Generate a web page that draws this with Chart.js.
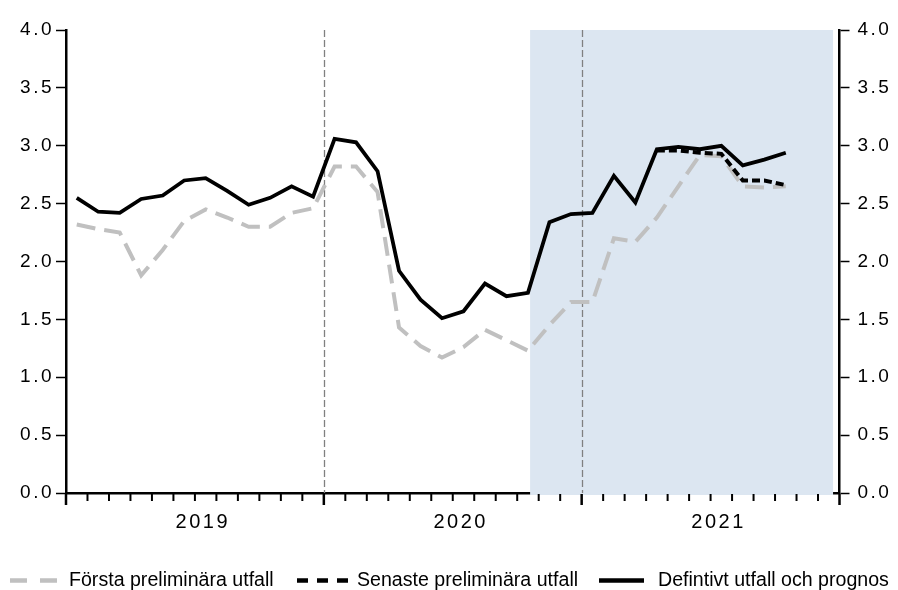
<!DOCTYPE html>
<html>
<head>
<meta charset="utf-8">
<script src="https://cdn.jsdelivr.net/npm/chart.js@4.4.0/dist/chart.umd.min.js"></script>
<style>
  body { margin: 0; background: #fff; }
  canvas { display: block; }
</style>
</head>
<body>
<canvas id="chart" width="898" height="590"></canvas>
<script>
const years = ['2019', '2020', '2021'];
const seriesNames = ['Första preliminära utfall', 'Senaste preliminära utfall', 'Defintivt utfall och prognos'];

// monthly values, jan 2019 - okt 2021
const firstPrelim = [
  2.32, 2.28, 2.25, 1.88, 2.10, 2.35, 2.45, 2.38, 2.30, 2.30, 2.42, 2.46,
  2.82, 2.82, 2.60, 1.43, 1.27, 1.17, 1.26, 1.41, 1.32, 1.23, 1.45, 1.65,
  1.65, 2.20, 2.17, 2.38, 2.65, 2.92, 2.91, 2.65, 2.64, 2.65
];
const latestPrelim = [
  null, null, null, null, null, null, null, null, null, null, null, null,
  null, null, null, null, null, null, null, null, null, null, null, null,
  null, null, null, 2.96, 2.96, 2.94, 2.93, 2.70, 2.70, 2.66
];
const definitive = [
  2.55, 2.43, 2.42, 2.54, 2.57, 2.70, 2.72, 2.61, 2.49, 2.55, 2.65, 2.56,
  3.06, 3.03, 2.78, 1.92, 1.67, 1.51, 1.57, 1.81, 1.70, 1.73, 2.34, 2.41,
  2.42, 2.74, 2.51, 2.97, 2.99, 2.97, 3.00, 2.83, 2.88, 2.94
];

// months counted from jan 2019
const forecastStart = 21.6;
const forecastEnd = 35.7;
const yearBreaks = [12, 24];
const nMonths = years.length * 12;
const yearLabelShift = 0.37;

const toPoints = arr => arr.map((v, i) => ({ x: i + 0.5, y: v }));
const font = 'Liberation Sans, Arial, sans-serif';

const decorations = {
  id: 'decorations',
  beforeDraw(chart) {
    // original has wide spacing between digits
    chart.ctx.letterSpacing = '2.5px';
  },
  beforeDatasetsDraw(chart) {
    const { ctx, chartArea: a, scales: { x } } = chart;
    ctx.save();
    // forecast shading (covers the bottom axis line as in the original)
    const x0 = x.getPixelForValue(forecastStart);
    const x1 = x.getPixelForValue(forecastEnd);
    ctx.fillStyle = '#dce6f1';
    ctx.fillRect(x0, a.top, x1 - x0, a.bottom - a.top + 2);

    ctx.strokeStyle = '#808080';
    ctx.lineWidth = 1.3;
    ctx.setLineDash([7, 3]);
    yearBreaks.forEach(m => {
      const px = Math.round(x.getPixelForValue(m)) + 0.5;
      ctx.beginPath();
      ctx.moveTo(px, a.top);
      ctx.lineTo(px, a.bottom);
      ctx.stroke();
    });

    // month ticks, longer at year change
    ctx.setLineDash([]);
    ctx.strokeStyle = '#000';
    for (let m = 0; m <= nMonths; m++) {
      const px = x.getPixelForValue(m);
      const major = m % 12 === 0;
      ctx.lineWidth = major ? 2.5 : 2;
      ctx.beginPath();
      ctx.moveTo(px, a.bottom + 1);
      ctx.lineTo(px, a.bottom + (major ? 12 : 8));
      ctx.stroke();
    }
    ctx.restore();
  },
  afterDraw(chart) {
    const ctx = chart.ctx;
    const items = [
      { color: '#c0c0c0', dash: [17, 13], w: 4.5, x0: 10, x1: 57, tx: 69 },
      { color: '#000', dash: [11, 9], w: 4.5, x0: 297, x1: 351, tx: 357 },
      { color: '#000', dash: [], w: 4.5, x0: 599, x1: 644, tx: 658 }
    ];
    ctx.save();
    ctx.letterSpacing = '0px';
    ctx.font = '19.6px ' + font;
    ctx.fillStyle = '#000';
    ctx.textBaseline = 'alphabetic';
    items.forEach((it, i) => {
      ctx.strokeStyle = it.color;
      ctx.lineWidth = it.w;
      ctx.setLineDash(it.dash);
      ctx.beginPath();
      ctx.moveTo(it.x0, 580.5);
      ctx.lineTo(it.x1, 580.5);
      ctx.stroke();
      ctx.fillText(seriesNames[i], it.tx, 586);
    });
    ctx.restore();
  }
};

const yAxis = (position, padding, width) => ({
  position,
  min: 0,
  max: 4,
  ticks: {
    stepSize: 0.5,
    callback: v => v.toFixed(1),
    color: '#000',
    padding,
    font: { family: font, size: 19 }
  },
  grid: { drawOnChartArea: false, drawTicks: true, tickLength: 10, tickColor: '#000', tickWidth: 1.5 },
  border: { color: '#000', width: 2.5 },
  afterFit: s => { s.width = width; }
});

new Chart(document.getElementById('chart'), {
  type: 'line',
  data: {
    datasets: [
      {
        label: seriesNames[0],
        data: toPoints(firstPrelim),
        borderColor: '#c0c0c0',
        borderWidth: 4,
        borderDash: [19, 9],
        order: 3
      },
      {
        label: seriesNames[1],
        data: toPoints(latestPrelim),
        borderColor: '#000',
        borderWidth: 4,
        borderDash: [8, 4],
        order: 2
      },
      {
        label: seriesNames[2],
        data: toPoints(definitive),
        borderColor: '#000',
        borderWidth: 3.8,
        order: 1
      }
    ]
  },
  options: {
    responsive: false,
    animation: false,
    devicePixelRatio: 1,
    layout: { padding: { top: 30 } },
    elements: { point: { radius: 0 }, line: { tension: 0, fill: false } },
    plugins: { legend: { display: false }, tooltip: { enabled: false } },
    scales: {
      x: {
        type: 'linear',
        bounds: 'data',
        min: 0,
        max: nMonths,
        afterBuildTicks: s => {
          s.ticks = years.map((y, i) => ({ value: 6 + 12 * i + yearLabelShift }));
        },
        ticks: {
          autoSkip: false,
          maxRotation: 0,
          callback: (v, i) => years[i],
          color: '#000',
          padding: 17,
          font: { family: font, size: 20 }
        },
        grid: { display: false, drawTicks: false },
        border: { color: '#000', width: 2.5 },
        afterFit: s => { s.height = 97; }
      },
      y: yAxis('left', 2, 66),
      y2: yAxis('right', 8, 58.5)
    }
  },
  plugins: [decorations]
});
</script>
</body>
</html>
